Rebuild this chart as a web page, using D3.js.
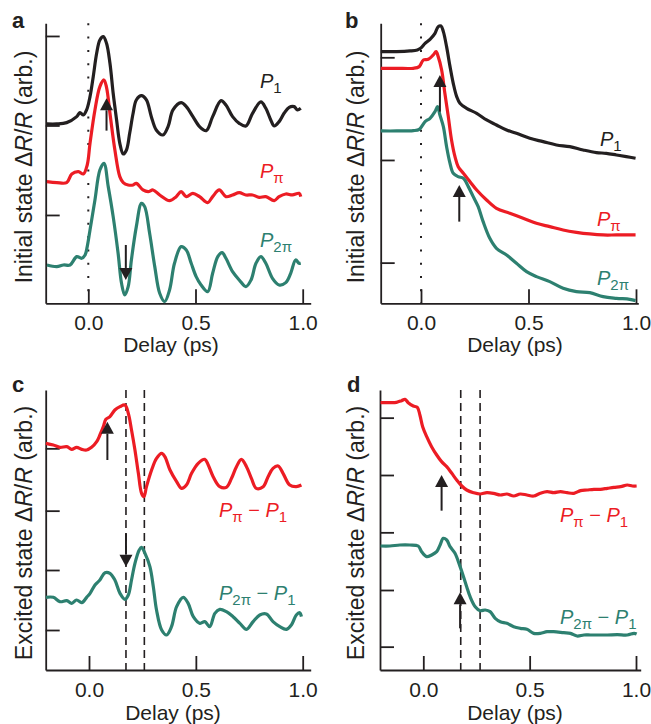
<!DOCTYPE html>
<meta charset="utf-8">
<body style="margin:0;background:#fff">
<script src="https://cdnjs.cloudflare.com/ajax/libs/d3/7.8.5/d3.min.js"></script>
<style>
svg { font-family: "Liberation Sans", Arial, Helvetica, sans-serif; }
.axis path, .axis line { stroke: #231f20; stroke-width: 1.8; }
.axis text { font-size: 21px; fill: #231f20; }
</style>
<svg id="thesvg" width="651" height="724"></svg>
<script>
// ---- data: [delay (ps), signal (arb.)] ----
var delayTicks = [0, 0.5, 1.0];

var aP1 = [[-0.193,6.28],[-0.147,6.28],[-0.101,6.32],[-0.054,6.50],[-0.039,6.62],[-0.023,6.55],[-0.008,6.70],
  [0.008,7.10],[0.023,7.70],[0.039,8.40],[0.054,8.80],[0.070,8.90],[0.085,8.70],[0.101,8.10],[0.116,7.20],
  [0.132,6.40],[0.147,5.70],[0.163,5.38],[0.178,5.50],[0.193,6.00],[0.209,6.60],[0.224,7.00],[0.248,7.13],
  [0.271,7.00],[0.294,6.50],[0.317,6.10],[0.348,5.95],[0.372,6.20],[0.395,6.70],[0.433,6.92],[0.457,6.80],
  [0.488,6.50],[0.519,6.20],[0.550,6.08],[0.580,6.50],[0.619,6.98],[0.642,6.85],[0.673,6.50],[0.704,6.30],
  [0.735,6.22],[0.766,6.60],[0.805,6.94],[0.828,6.75],[0.851,6.40],[0.867,6.22],[0.890,6.35],[0.913,6.60],
  [0.937,6.78],[0.960,6.80],[0.975,6.70],[0.991,6.75]];
var aPpi = [[-0.193,4.55],[-0.147,4.52],[-0.101,4.52],[-0.077,4.78],[-0.046,4.85],[-0.023,4.78],[-0.005,5.05],
  [0.008,5.70],[0.031,6.70],[0.054,7.40],[0.073,7.60],[0.085,7.38],[0.101,6.60],[0.124,5.50],[0.147,4.70],
  [0.163,4.52],[0.186,4.45],[0.209,4.45],[0.224,4.50],[0.255,4.30],[0.279,4.25],[0.302,4.30],[0.333,4.15],
  [0.379,3.98],[0.410,4.10],[0.433,4.25],[0.457,4.10],[0.488,4.20],[0.519,4.10],[0.557,3.92],[0.580,4.10],
  [0.611,4.30],[0.642,4.10],[0.673,4.15],[0.704,4.22],[0.735,4.15],[0.766,4.15],[0.797,4.08],[0.828,4.10],
  [0.867,3.98],[0.890,4.10],[0.921,4.18],[0.952,4.15],[0.983,4.20],[0.991,4.10]];
var aP2pi = [[-0.193,2.05],[-0.147,2.00],[-0.116,2.05],[-0.085,2.05],[-0.054,2.30],[-0.031,2.25],[-0.015,2.35],
  [-0.005,2.60],[0.008,3.10],[0.031,4.00],[0.054,4.90],[0.073,5.10],[0.093,4.40],[0.116,3.50],[0.139,2.40],
  [0.155,1.50],[0.170,1.15],[0.186,1.40],[0.201,2.20],[0.224,3.20],[0.248,3.90],[0.263,3.80],[0.286,3.00],
  [0.310,2.00],[0.333,1.20],[0.356,0.95],[0.379,1.30],[0.402,2.10],[0.433,2.60],[0.457,2.50],[0.480,2.10],
  [0.503,1.70],[0.526,1.45],[0.557,1.25],[0.580,1.80],[0.604,2.30],[0.624,2.42],[0.642,2.25],[0.673,1.85],
  [0.704,1.60],[0.735,1.40],[0.759,1.60],[0.782,2.10],[0.805,2.30],[0.828,2.10],[0.859,1.65],[0.890,1.45],
  [0.921,1.52],[0.944,1.80],[0.967,2.20],[0.983,2.10],[0.991,2.10]];

var bP1 = [[-0.187,8.45],[-0.113,8.45],[-0.051,8.47],[-0.017,8.50],[-0.002,8.55],[0.019,8.70],[0.042,8.82],
  [0.065,9.00],[0.080,9.20],[0.093,9.22],[0.104,9.05],[0.119,8.60],[0.135,8.00],[0.150,7.50],[0.166,7.10],
  [0.181,6.90],[0.212,6.75],[0.259,6.60],[0.305,6.40],[0.351,6.25],[0.398,6.10],[0.444,6.00],[0.506,5.85],
  [0.568,5.75],[0.630,5.65],[0.692,5.60],[0.754,5.50],[0.816,5.42],[0.862,5.40],[0.909,5.35],[0.955,5.30],[0.998,5.25]];
var bPpi = [[-0.187,7.95],[-0.113,7.95],[-0.036,7.95],[-0.008,8.00],[0.011,8.20],[0.034,8.22],[0.057,8.35],
  [0.070,8.45],[0.080,8.30],[0.096,7.90],[0.111,7.20],[0.127,6.50],[0.142,5.80],[0.158,5.30],[0.173,5.00],
  [0.197,4.80],[0.228,4.55],[0.259,4.30],[0.305,4.00],[0.351,3.75],[0.413,3.60],[0.475,3.45],[0.537,3.30],
  [0.599,3.20],[0.661,3.10],[0.723,3.03],[0.785,2.98],[0.847,2.95],[0.909,2.95],[0.998,2.95]];
var bP2pi = [[-0.187,6.07],[-0.113,6.07],[-0.036,6.08],[-0.008,6.12],[0.019,6.35],[0.042,6.45],[0.065,6.65],
  [0.077,6.80],[0.088,6.55],[0.104,6.20],[0.119,5.60],[0.135,5.10],[0.150,4.80],[0.173,4.70],[0.197,4.65],
  [0.220,4.40],[0.243,4.10],[0.266,3.80],[0.289,3.35],[0.320,2.85],[0.351,2.55],[0.398,2.35],[0.444,2.10],
  [0.491,1.85],[0.537,1.70],[0.599,1.55],[0.661,1.35],[0.723,1.25],[0.785,1.22],[0.847,1.10],[0.909,1.05],
  [0.971,1.02],[0.998,0.98]];

var cPpiP1 = [[-0.202,7.50],[-0.167,7.45],[-0.136,7.38],[-0.104,7.40],[-0.081,7.32],[-0.058,7.38],[-0.034,7.32],
  [-0.011,7.30],[0.012,7.38],[0.036,7.55],[0.051,7.75],[0.067,8.00],[0.079,8.22],[0.098,8.30],[0.121,8.50],
  [0.145,8.60],[0.168,8.65],[0.184,8.40],[0.199,7.90],[0.215,7.30],[0.231,6.60],[0.246,6.00],[0.257,5.90],
  [0.269,6.20],[0.293,6.70],[0.316,7.05],[0.340,7.20],[0.355,7.10],[0.379,6.70],[0.410,6.35],[0.433,6.15],
  [0.456,6.25],[0.480,6.60],[0.511,6.90],[0.542,7.02],[0.558,6.85],[0.581,6.50],[0.612,6.20],[0.643,6.18],
  [0.667,6.45],[0.690,6.80],[0.713,7.02],[0.737,6.80],[0.760,6.45],[0.783,6.15],[0.815,6.20],[0.838,6.50],
  [0.861,6.75],[0.885,6.82],[0.908,6.60],[0.939,6.25],[0.970,6.20],[0.994,6.25]];
var cP2piP1 = [[-0.202,2.88],[-0.167,2.88],[-0.136,2.75],[-0.104,2.78],[-0.081,2.70],[-0.058,2.80],[-0.034,2.72],
  [-0.011,2.88],[0.005,3.00],[0.028,3.25],[0.051,3.40],[0.075,3.62],[0.098,3.60],[0.121,3.40],[0.145,3.00],
  [0.168,2.82],[0.184,2.95],[0.199,3.40],[0.215,3.90],[0.235,4.30],[0.246,4.38],[0.262,4.20],[0.285,3.80],
  [0.301,3.20],[0.316,2.50],[0.340,1.90],[0.363,1.75],[0.386,2.00],[0.410,2.60],[0.441,2.88],[0.464,2.70],
  [0.488,2.30],[0.519,2.10],[0.542,2.15],[0.565,2.00],[0.589,2.40],[0.612,2.52],[0.643,2.45],[0.674,2.30],
  [0.706,2.10],[0.737,1.92],[0.768,2.15],[0.799,2.35],[0.830,2.38],[0.861,2.15],[0.893,2.00],[0.924,1.92],
  [0.947,2.05],[0.970,2.35],[0.986,2.42],[0.994,2.30]];

var dPpiP1 = [[-0.201,8.72],[-0.157,8.72],[-0.126,8.73],[-0.102,8.78],[-0.086,8.82],[-0.071,8.72],[-0.047,8.62],
  [-0.028,8.58],[-0.016,8.35],[-0.003,8.00],[0.016,7.70],[0.039,7.40],[0.063,7.15],[0.086,6.95],[0.110,6.80],
  [0.134,6.60],[0.157,6.40],[0.181,6.22],[0.204,6.10],[0.236,6.02],[0.267,5.98],[0.299,6.02],[0.330,6.00],
  [0.362,5.95],[0.393,5.98],[0.425,5.92],[0.456,5.98],[0.487,5.95],[0.519,5.92],[0.550,6.00],[0.582,6.05],
  [0.613,6.02],[0.645,6.05],[0.676,6.02],[0.708,6.00],[0.739,6.08],[0.770,6.10],[0.802,6.12],[0.833,6.12],
  [0.865,6.15],[0.896,6.18],[0.928,6.20],[0.959,6.25],[0.983,6.22],[1.003,6.22]];
var dP2piP1 = [[-0.201,4.42],[-0.157,4.42],[-0.110,4.45],[-0.063,4.45],[-0.024,4.42],[-0.008,4.25],[0.016,4.10],
  [0.039,4.15],[0.063,4.25],[0.079,4.45],[0.094,4.65],[0.110,4.60],[0.126,4.40],[0.149,4.20],[0.173,3.80],
  [0.189,3.50],[0.204,3.20],[0.220,2.90],[0.244,2.60],[0.267,2.48],[0.291,2.50],[0.314,2.45],[0.338,2.25],
  [0.362,2.15],[0.393,2.10],[0.425,2.00],[0.456,1.95],[0.487,1.92],[0.519,1.80],[0.550,1.80],[0.582,1.85],
  [0.613,1.85],[0.660,1.82],[0.692,1.80],[0.723,1.72],[0.755,1.75],[0.786,1.75],[0.818,1.75],[0.865,1.75],
  [0.912,1.76],[0.959,1.75],[0.991,1.80],[1.003,1.78]];

// y tick positions (arb.) and marker delays
var aYTicks = [8.92, 6.235, 3.55];
var bYTicks = [8.28, 5.2, 2.12];
var cYTicks = [7.35, 5.48, 3.7, 1.9];
var dYTicks = [8.27, 6.55, 4.83, 3.10, 1.40];
var cMarks = [0.173, 0.259];
var dMarks = [0.176, 0.267];

var black = "#231f20", red = "#ec1c24", teal = "#2d8070";

var panels = [
  { letter: "a", lx: 12, ly: 28, left: 45.7, right: 310.7, x0: 88.3, x1: 302.7, top: 23.3, bottom: 303.3,
    yDom: [0.9, 9.3], yTicks: aYTicks, title: "Initial state", tx: 32, ty: 167, dx: 171, dy: 352,
    zeroLine: true, marks: [],
    series: [
      { d: aP1, c: black, lab: [["P","i"],["1","s"]], px: 260, py: 88 },
      { d: aPpi, c: red, lab: [["P","i"],["π","s"]], px: 260, py: 178 },
      { d: aP2pi, c: teal, lab: [["P","i"],["2π","s"]], px: 260, py: 247 }],
    arrows: [[0.085, 6.08, 7.05], [0.175, 2.65, 1.6]] },
  { letter: "b", lx: 345, ly: 28, left: 380.7, right: 638.3, x0: 421, x1: 636, top: 23.3, bottom: 303.3,
    yDom: [0.9, 9.3], yTicks: bYTicks, title: "Initial state", tx: 364, ty: 167, dx: 515, dy: 352,
    zeroLine: true, marks: [],
    series: [
      { d: bP1, c: black, lab: [["P","i"],["1","s"]], px: 600, py: 146 },
      { d: bPpi, c: red, lab: [["P","i"],["π","s"]], px: 597, py: 226 },
      { d: bP2pi, c: teal, lab: [["P","i"],["2π","s"]], px: 597, py: 285 }],
    arrows: [[0.088, 6.65, 7.75], [0.178, 3.35, 4.45]] },
  { letter: "c", lx: 12, ly: 392, left: 45.7, right: 310.7, x0: 89, x1: 302.7, top: 390, bottom: 670,
    yDom: [0.7, 9.1], yTicks: cYTicks, title: "Excited state", tx: 32, ty: 533, dx: 173, dy: 720,
    zeroLine: false, marks: cMarks,
    series: [
      { d: cPpiP1, c: red, lab: [["P","i"],["π","s"],[" − ","n"],["P","i"],["1","s"]], px: 219, py: 517 },
      { d: cP2piP1, c: teal, lab: [["P","i"],["2π","s"],[" − ","n"],["P","i"],["1","s"]], px: 219, py: 600 }],
    arrows: [[0.086, 7.0, 8.15], [0.173, 4.8, 3.8]] },
  { letter: "d", lx: 347, ly: 392, left: 380, right: 640.7, x0: 423.3, x1: 636, top: 390, bottom: 670,
    yDom: [0.7, 9.1], yTicks: dYTicks, title: "Excited state", tx: 364, ty: 533, dx: 515, dy: 720,
    zeroLine: false, marks: dMarks,
    series: [
      { d: dPpiP1, c: red, lab: [["P","i"],["π","s"],[" − ","n"],["P","i"],["1","s"]], px: 560, py: 522 },
      { d: dP2piP1, c: teal, lab: [["P","i"],["2π","s"],[" − ","n"],["P","i"],["1","s"]], px: 560, py: 624 }],
    arrows: [[0.086, 5.48, 6.55], [0.173, 1.95, 3.03]] }
];

var svg = d3.select("#thesvg");

function addLabel(g, x, y, color, parts) {
  var t = g.append("text").attr("x", x).attr("y", y).attr("fill", color).style("font-size", "20px");
  var shift = 0;
  parts.forEach(function (p) {
    var s = t.append("tspan").text(p[0]);
    var want = p[1] == "s" ? 5 : 0;
    s.attr("dy", want - shift);
    shift = want;
    if (p[1] == "i") s.style("font-style", "italic");
    if (p[1] == "s") s.style("font-size", "15px");
  });
}

panels.forEach(function (p) {
  var g = svg.append("g");
  var x = d3.scaleLinear().domain([0, 1]).range([p.x0, p.x1]);
  x.domain([x.invert(p.left), x.invert(p.right)]).range([p.left, p.right]);
  var y = d3.scaleLinear().domain(p.yDom).range([p.bottom, p.top]);

  g.append("g").attr("class", "axis").attr("transform", "translate(0," + p.bottom + ")")
    .call(d3.axisBottom(x).tickValues(delayTicks).tickSize(-14).tickSizeOuter(0).tickPadding(12)
      .tickFormat(d3.format(".1f")));
  g.append("g").attr("class", "axis").attr("transform", "translate(" + p.left + ",0)")
    .call(d3.axisLeft(y).tickValues(p.yTicks).tickSize(-14).tickSizeOuter(0).tickFormat(""));

  if (p.zeroLine)
    g.append("line").attr("x1", x(0)).attr("x2", x(0)).attr("y1", p.top).attr("y2", p.bottom)
      .attr("stroke", black).attr("stroke-width", 2).attr("stroke-dasharray", "2,11.3");
  p.marks.forEach(function (m) {
    g.append("line").attr("x1", x(m)).attr("x2", x(m)).attr("y1", p.top).attr("y2", p.bottom)
      .attr("stroke", black).attr("stroke-width", 1.6).attr("stroke-dasharray", "8,5");
  });

  var line = d3.line().x(function (d) { return x(d[0]); }).y(function (d) { return y(d[1]); })
    .curve(d3.curveCatmullRom.alpha(0.5));
  p.series.forEach(function (s) {
    g.append("path").datum(s.d).attr("d", line).attr("fill", "none")
      .attr("stroke", s.c).attr("stroke-width", 3.2).attr("stroke-linejoin", "round");
    addLabel(g, s.px, s.py, s.c, s.lab);
  });

  // arrows: [delay, tail, tip]
  p.arrows.forEach(function (a) {
    var ax = x(a[0]), y0 = y(a[1]), y1 = y(a[2]);
    var dir = y1 < y0 ? 1 : -1, hl = 12, hw = 6.5;
    g.append("line").attr("x1", ax).attr("x2", ax).attr("y1", y0).attr("y2", y1 + dir * hl)
      .attr("stroke", black).attr("stroke-width", 2);
    g.append("path").attr("d", "M" + ax + "," + y1 + "L" + (ax - hw) + "," + (y1 + dir * hl) +
      "L" + (ax + hw) + "," + (y1 + dir * hl) + "Z").attr("fill", black);
  });

  var tt = g.append("text").attr("transform", "translate(" + p.tx + "," + p.ty + ") rotate(-90)")
    .attr("text-anchor", "middle").attr("fill", black).style("font-size", "23px");
  tt.append("tspan").text(p.title + " Δ");
  tt.append("tspan").text("R").style("font-style", "italic");
  tt.append("tspan").text("/");
  tt.append("tspan").text("R").style("font-style", "italic");
  tt.append("tspan").text(" (arb.)");

  g.append("text").attr("x", p.dx).attr("y", p.dy).attr("text-anchor", "middle")
    .attr("fill", black).style("font-size", "21px").text("Delay (ps)");
  g.append("text").attr("x", p.lx).attr("y", p.ly).attr("fill", black)
    .style("font-size", "22px").style("font-weight", "bold").text(p.letter);
});
</script>
</body>
